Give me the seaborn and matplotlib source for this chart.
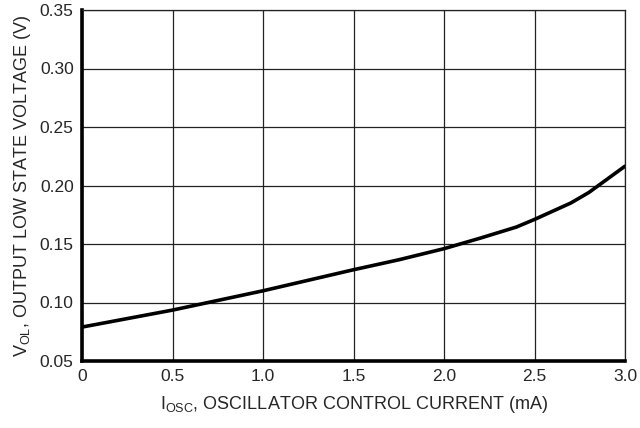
import matplotlib
matplotlib.use("Agg")
import matplotlib.pyplot as plt
import seaborn as sns
import pandas as pd

# Data
i_osc = [0.0, 0.5, 1.0, 1.25, 1.5, 1.75, 2.0, 2.2, 2.4, 2.5, 2.7, 2.8, 3.0]
v_ol = [0.079, 0.0935, 0.110, 0.119, 0.128, 0.1365, 0.146, 0.155, 0.1645, 0.171, 0.185, 0.194, 0.2165]
x_ticks = [0, 0.5, 1.0, 1.5, 2.0, 2.5, 3.0]
x_tick_labels = ["0", "0.5", "1.0", "1.5", "2.0", "2.5", "3.0"]
y_ticks = [0.05, 0.10, 0.15, 0.20, 0.25, 0.30, 0.35]
y_tick_labels = ["0.05", "0.10", "0.15", "0.20", "0.25", "0.30", "0.35"]

sns.set_style("white")
font = "Liberation Sans"
plt.rcParams["font.family"] = [font, "DejaVu Sans"]
plt.rcParams["mathtext.fontset"] = "custom"
plt.rcParams["mathtext.rm"] = font
plt.rcParams["mathtext.it"] = font

df = pd.DataFrame({"I": i_osc, "V": v_ol})

fig = plt.figure(figsize=(6.4, 4.28), dpi=100)
ax = fig.add_axes([82 / 640, 1 - 361 / 428, (625 - 82) / 640, (361 - 10) / 428])

sns.lineplot(data=df, x="I", y="V", ax=ax, color="black", linewidth=2.6, zorder=3)

ax.set_xlim(0, 3.0)
ax.set_ylim(0.05, 0.35)
ax.set_xticks(x_ticks)
ax.set_xticklabels(x_tick_labels)
ax.set_yticks(y_ticks)
ax.set_yticklabels(y_tick_labels)
ax.grid(True, color="#222222", linewidth=0.9)
ax.tick_params(axis="both", length=0, labelsize=12.5, pad=6)

for side in ["top", "right"]:
    ax.spines[side].set_linewidth(0.9)
    ax.spines[side].set_color("#222222")
for side in ["left", "bottom"]:
    ax.spines[side].set_linewidth(2.6)
    ax.spines[side].set_color("black")

ax.set_xlabel(r"$\mathrm{I_{OSC}}$, OSCILLATOR CONTROL CURRENT (mA)", fontsize=13, labelpad=7)
ax.set_ylabel(r"$\mathrm{V_{OL}}$, OUTPUT LOW STATE VOLTAGE (V)", fontsize=13, labelpad=5)

fig.savefig("out.png", dpi=100)
